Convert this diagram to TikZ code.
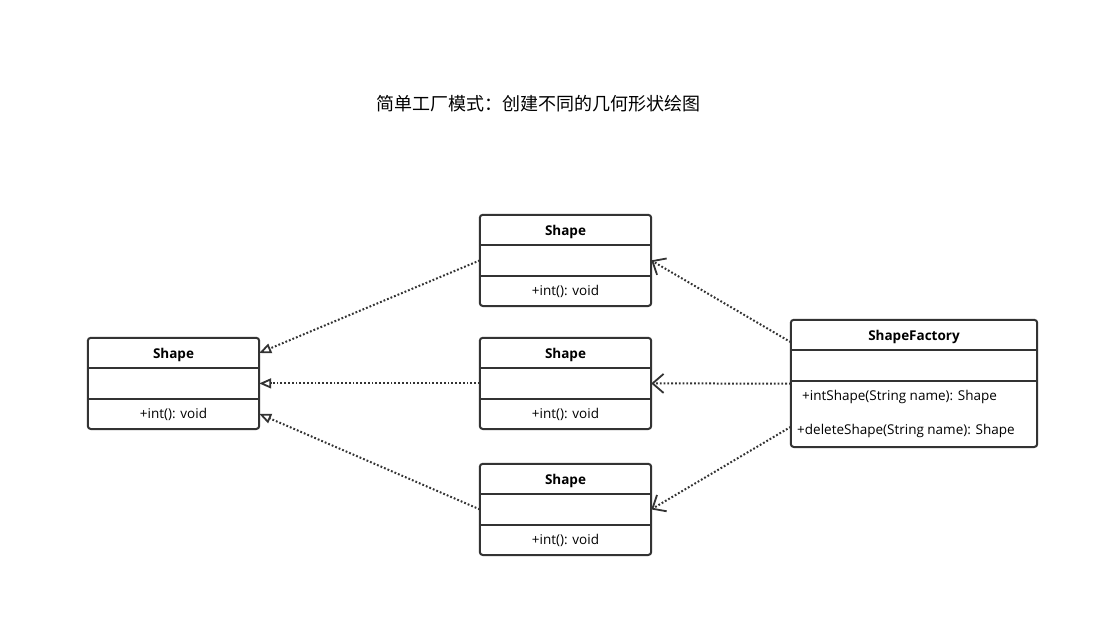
\documentclass[tikz,border=0pt]{standalone}
\usepackage{fontspec}
\setmainfont{Open Sans}
\newfontfamily\cjk{Noto Sans CJK SC}
\usepackage{tikz}
\usetikzlibrary{positioning,arrows.meta}

\tikzset{
  part/.style={minimum width=171pt, minimum height=30pt, inner sep=0pt, text height=10pt, text depth=0pt, font=\fontsize{13.5}{15}\selectfont},
  head/.style={part, font=\fontsize{13.5}{15}\selectfont\bfseries},
  frame/.style={line width=2pt, draw=black!80, rounded corners=3pt},
  sep/.style={line width=2pt, draw=black!80},
  realize/.style={line width=2pt, black!80, dash pattern=on 1.8pt off 2pt, -{Triangle[open,length=12pt,width=10pt,line width=1.8pt,sep=0pt]}},
  depend/.style={line width=2pt, black!80, dash pattern=on 1.8pt off 2pt, -{Straight Barb[length=11pt,width=19pt,line width=1.8pt]}}
}

\begin{document}
\begin{tikzpicture}[x=1pt, y=-1pt]
\useasboundingbox (0,0) rectangle (1097,616);

% Title
\node (title) at (538,104) {\cjk\fontsize{18}{20}\selectfont 简单工厂模式：创建不同的几何形状绘图};

% Left Shape
\node[head] (lhead) at (173.5,353) {Shape};
\node[part, below=0 of lhead] (lattr) {};
\node[part, below=0 of lattr] (lops) {+int(): void};
\draw[frame] (lhead.north west) rectangle (lops.south east);
\draw[sep] (lhead.south west) -- (lhead.south east);
\draw[sep] (lattr.south west) -- (lattr.south east);

% Top Shape
\node[head] (thead) at (565.5,230) {Shape};
\node[part, below=0 of thead] (tattr) {};
\node[part, below=0 of tattr] (tops) {+int(): void};
\draw[frame] (thead.north west) rectangle (tops.south east);
\draw[sep] (thead.south west) -- (thead.south east);
\draw[sep] (tattr.south west) -- (tattr.south east);

% Middle Shape
\node[head] (mhead) at (565.5,353) {Shape};
\node[part, below=0 of mhead] (mattr) {};
\node[part, below=0 of mattr] (mops) {+int(): void};
\draw[frame] (mhead.north west) rectangle (mops.south east);
\draw[sep] (mhead.south west) -- (mhead.south east);
\draw[sep] (mattr.south west) -- (mattr.south east);

% Bottom Shape
\node[head] (bhead) at (565.5,479) {Shape};
\node[part, below=0 of bhead] (battr) {};
\node[part, below=0 of battr] (bops) {+int(): void};
\draw[frame] (bhead.north west) rectangle (bops.south east);
\draw[sep] (bhead.south west) -- (bhead.south east);
\draw[sep] (battr.south west) -- (battr.south east);

% ShapeFactory
\node[head, minimum width=246pt] (fhead) at (914,335) {ShapeFactory};
\node[part, minimum width=246pt, below=0 of fhead] (fattr) {};
\node[part, minimum width=246pt, minimum height=66pt, below=0 of fattr] (fops) {};
\node[part, minimum width=0pt, anchor=west] (fnew) at (802,395) {+intShape(String name): Shape};
\node[part, minimum width=0pt, anchor=west] (fdel) at (797,429) {+deleteShape(String name): Shape};
\draw[frame] (fhead.north west) rectangle (fops.south east);
\draw[sep] (fhead.south west) -- (fhead.south east);
\draw[sep] (fattr.south west) -- (fattr.south east);

% Realization
\draw[realize] (tattr.west) -- (lhead.east);
\draw[realize] (mattr.west) -- (lattr.east);
\draw[realize] (battr.west) -- (lops.east);

% Dependency
\draw[depend] ([yshift=8pt]fhead.south west) -- (tattr.east);
\draw[depend] ([yshift=-3pt]fattr.south west) -- (mattr.east);
\draw[depend] ([yshift=-13pt]fops.west) -- (battr.east);

\end{tikzpicture}
\end{document}
